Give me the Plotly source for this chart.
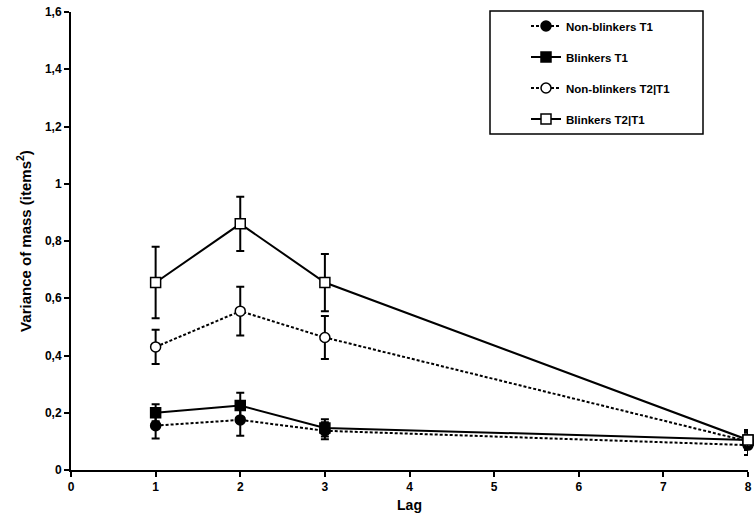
import plotly.graph_objects as go

lags = [1, 2, 3, 8]

nb_t1 = [0.155, 0.175, 0.137, 0.087]
nb_t1_err = [0.045, 0.055, 0.03, 0.035]

b_t1 = [0.200, 0.225, 0.147, 0.105]
b_t1_err = [0.03, 0.045, 0.03, 0.03]

nb_t2 = [0.430, 0.555, 0.463, 0.100]
nb_t2_err = [0.06, 0.085, 0.075, 0.03]

b_t2 = [0.655, 0.860, 0.655, 0.105]
b_t2_err = [0.125, 0.095, 0.10, 0.035]

x_ticks = [0, 1, 2, 3, 4, 5, 6, 7, 8]
y_ticks = [0, 0.2, 0.4, 0.6, 0.8, 1.0, 1.2, 1.4, 1.6]

series = [
    ("Non-blinkers T1", nb_t1, nb_t1_err, "circle", "black", "3px,2px"),
    ("Blinkers T1", b_t1, b_t1_err, "square", "black", "solid"),
    ("Non-blinkers T2|T1", nb_t2, nb_t2_err, "circle", "white", "3px,2px"),
    ("Blinkers T2|T1", b_t2, b_t2_err, "square", "white", "solid"),
]

fig = go.Figure()
for i, (name, ys, errs, sym, fill, dash) in enumerate(series):
    fig.add_trace(go.Scatter(
        x=lags, y=ys, name=name, mode="lines+markers",
        legendgroup=f"g{i}",
        line=dict(color="black", width=2, dash=dash),
        marker=dict(symbol=sym, size=10, color=fill,
                    line=dict(color="black", width=1.5)),
        error_y=dict(type="data", array=errs, visible=True,
                     color="black", thickness=2, width=4),
        cliponaxis=False,
    ))

L, R, T, B = 71, 6, 12, 49
PW, PH = 754 - L - R, 519 - T - B

# legend frame (wider than plotly's own legend box, as in the reference)
fig.add_shape(type="rect", xref="paper", yref="paper",
              x0=(490 - L) / PW, x1=(703 - L) / PW,
              y0=(519 - B - 134) / PH, y1=(519 - B - 11) / PH,
              line=dict(color="black", width=1.5), fillcolor="rgba(0,0,0,0)",
              layer="above")

font_family = "Liberation Sans, Arial, sans-serif"
fig.update_layout(
    width=754, height=519,
    margin=dict(l=L, r=R, t=T, b=B, pad=0),
    plot_bgcolor="white", paper_bgcolor="white",
    separators=",.",
    font=dict(family=font_family, size=12, color="black", weight="bold"),
    showlegend=True,
    legend=dict(
        x=(526 - L) / PW, y=1 + 0.5 / PH, xanchor="left", yanchor="top",
        borderwidth=0, bgcolor="rgba(0,0,0,0)",
        traceorder="grouped", tracegroupgap=12,
        font=dict(family=font_family, size=11.5, color="black", weight="bold"),
        itemwidth=30,
    ),
    xaxis=dict(
        range=[0, 8], tickmode="array", tickvals=x_ticks,
        showline=True, linecolor="black", linewidth=2,
        ticks="outside", ticklen=5, tickwidth=2, tickcolor="black",
        showgrid=False, zeroline=False, automargin=False,
        title=dict(text="Lag", font=dict(size=14, weight="bold"), standoff=7),
        tickfont=dict(size=12, weight="bold"),
    ),
    yaxis=dict(
        range=[0, 1.6], tickmode="array", tickvals=y_ticks,
        showline=True, linecolor="black", linewidth=2,
        ticks="outside", ticklen=5, tickwidth=2, tickcolor="black",
        showgrid=False, zeroline=False, automargin=False,
        title=dict(text="Variance of mass (items<sup>2</sup>)",
                   font=dict(size=15, weight="bold"), standoff=10),
        tickfont=dict(size=12, weight="bold"),
    ),
)

fig.write_html(
    "out.html",
    config={"displayModeBar": False},
    post_script=("document.documentElement.style.margin='0';"
                 "document.body.style.margin='0';"
                 "document.body.style.overflow='hidden';"),
)
